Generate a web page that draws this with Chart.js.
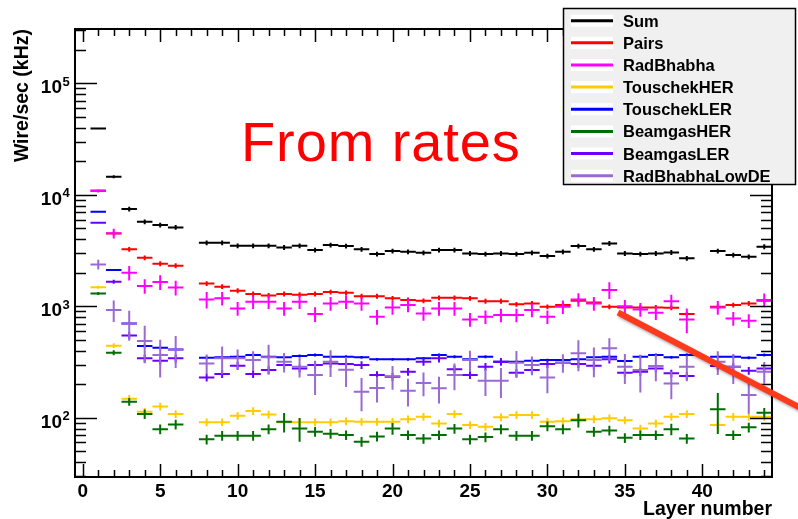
<!DOCTYPE html>
<html><head><meta charset="utf-8">
<script src="https://cdn.jsdelivr.net/npm/chart.js@4.4.0/dist/chart.umd.min.js"></script>
<style>
html,body{margin:0;padding:0;background:#fff;}
#wrap{position:relative;width:798px;height:519px;overflow:hidden;}
</style></head>
<body><div id="wrap"><canvas id="c" width="798" height="519"></canvas></div>
<script>
// ---- data ----
const layers = [1,2,3,4,5,6,8,9,10,11,12,13,14,15,16,17,18,19,20,21,22,23,24,25,26,27,28,29,30,31,32,33,34,35,36,37,38,39,41,42,43,44];
const seriesNames = ["Sum","Pairs","RadBhabha","TouschekHER","TouschekLER","BeamgasHER","BeamgasLER","RadBhabhaLowDE"];
const sum = [39400,14500,7440,5730,5350,5100, 3710,3710,3490,3490,3490,3370,3490,3190, 3540,3470,3240,2940,3130,3080,3020,3190, 3190,2980,2940,2980,2940,3020,2820,3080, 3470,3240,3660,2980,2940,2980,3040,2690, 3130,2880,2780,3420];
const pairs = [10900,4500,3240,2720,2410,2310, 1600,1500,1380,1290,1250,1290,1270,1290, 1340,1320,1230,1230,1180,1140,1120,1190, 1190,1180,1110,1110,1040,1060,990,1025, 1120,1080,990,977,977,977,970,851, 990,1025,1060,1120];
const radBhabha = [10800,4510,2000,1520,1650,1470, 1150,1180,957,1100,1100,957,1100,851, 1060,1100,1060,805,977,1025,863,957, 957,762,805,834,834,925,805,990, 1150,1060,1400,1000,937,875,1110,762, 977,778,742,1140];
const touschekHER = [1480,443,148,113,126,108, 91,91,104,115,107,91,91,91, 91,93,92,92,92,97,102,89, 108,86,83,101,106,106,92,93, 97,97,99,95,80,89,102,108, 86,102,102,102];
const touschekLER = [7040,2110,702,440,425,410, 345,348,353,365,353,348,358,365, 353,353,348,334,334,334,341,365, 353,334,353,318,318,325,329,329, 334,348,353,322,353,365,348,365, 353,353,345,365];
const beamgasHER = [1300,383,139,108,79,87, 64,69,69,69,79,92,80,75, 72,70,61,68,80,70,65,70, 80,64,67,79,69,69,84,79, 95,75,77,66,70,70,79,65, 119,70,82,111];
const beamgasLER = [5610,1660,548,341,325,341, 230,247,293,247,268,297,277,297, 307,303,297,242,233,259,318,341, 272,242,287,318,253,268,303,312, 303,293,334,253,259,277,250,237, 291,287,264,277];
const radBhabhaLowDE = [2370,925,702,488,365,410, 307,341,341,329,348,318,287,242, 318,270,171,185,235,175,205,184, 242,329,215,215,312,297,230,312, 378,329,419,287,268,291,203,287, 318,287,160,259];
// relative errors
const sumErr = [0.01,0.03,0.05,0.05,0.05,0.05, 0.05,0.05,0.05,0.05,0.05,0.05,0.05,0.05, 0.05,0.05,0.05,0.05,0.05,0.05,0.05,0.05, 0.05,0.05,0.05,0.05,0.05,0.05,0.05,0.05, 0.05,0.05,0.05,0.05,0.05,0.05,0.05,0.05, 0.05,0.05,0.05,0.05];
const pairsErr = [0.02,0.04,0.05,0.05,0.05,0.05, 0.05,0.05,0.05,0.05,0.05,0.05,0.05,0.05, 0.05,0.05,0.05,0.05,0.05,0.05,0.05,0.05, 0.05,0.05,0.05,0.05,0.05,0.05,0.05,0.05, 0.05,0.05,0.05,0.05,0.05,0.05,0.05,0.05, 0.05,0.05,0.05,0.05];
const radBhabhaErr = [0.03,0.10,0.15,0.15,0.15,0.15, 0.17,0.14,0.14,0.14,0.14,0.14,0.14,0.15, 0.14,0.14,0.14,0.15,0.14,0.14,0.14,0.14, 0.14,0.14,0.14,0.14,0.14,0.14,0.14,0.14, 0.14,0.14,0.17,0.14,0.14,0.14,0.14,0.25, 0.14,0.14,0.14,0.14];
const touschekHERErr = [0.03,0.05,0.08,0.08,0.08,0.08, 0.08,0.08,0.08,0.08,0.08,0.08,0.08,0.08, 0.08,0.08,0.08,0.08,0.08,0.08,0.08,0.08, 0.08,0.08,0.08,0.08,0.08,0.08,0.08,0.08, 0.08,0.08,0.08,0.08,0.08,0.08,0.08,0.08, 0.08,0.08,0.08,0.08];
const touschekLERErr = [0.01,0.02,0.03,0.03,0.03,0.03, 0.03,0.03,0.03,0.03,0.03,0.03,0.03,0.03, 0.03,0.03,0.03,0.03,0.03,0.03,0.03,0.03, 0.03,0.03,0.03,0.03,0.03,0.03,0.03,0.03, 0.03,0.03,0.03,0.03,0.03,0.03,0.03,0.03, 0.03,0.03,0.03,0.03];
const beamgasHERErr = [0.03,0.05,0.08,0.10,0.10,0.10, 0.10,0.10,0.10,0.10,0.10,0.20,0.24,0.10, 0.10,0.10,0.10,0.10,0.12,0.10,0.10,0.10, 0.10,0.10,0.10,0.10,0.10,0.10,0.10,0.10, 0.14,0.10,0.10,0.10,0.10,0.10,0.12,0.10, 0.40,0.10,0.10,0.10];
const beamgasLERErr = [0.02,0.04,0.07,0.08,0.08,0.08, 0.08,0.08,0.08,0.08,0.08,0.08,0.08,0.08, 0.08,0.08,0.08,0.08,0.08,0.08,0.08,0.08, 0.08,0.08,0.08,0.08,0.08,0.08,0.08,0.08, 0.08,0.08,0.08,0.08,0.08,0.08,0.08,0.08, 0.08,0.08,0.08,0.08];
const radBhabhaLowDEErr = [0.10,0.22,0.30,0.37,0.37,0.32, 0.20,0.28,0.20,0.20,0.30,0.20,0.20,0.34, 0.27,0.30,0.33,0.26,0.24,0.28,0.24,0.27, 0.27,0.21,0.27,0.30,0.27,0.19,0.28,0.19, 0.31,0.30,0.23,0.30,0.37,0.27,0.28,0.26, 0.24,0.30,0.32,0.22];
const xTickLabels = ["0","5","10","15","20","25","30","35","40"];
const yTickLabels = [["10","2"],["10","3"],["10","4"],["10","5"]];

const seriesValues = [sum,pairs,radBhabha,touschekHER,touschekLER,beamgasHER,beamgasLER,radBhabhaLowDE];
const seriesErrors = [sumErr,pairsErr,radBhabhaErr,touschekHERErr,touschekLERErr,beamgasHERErr,beamgasLERErr,radBhabhaLowDEErr];
const colors = ["#000000","#ff0000","#ff00ff","#ffcc00","#0000ff","#006e00","#6a00ff","#9a6ad2"];

function segs(vals, errs){
  const pts = [];
  for (let i=0;i<layers.length;i++){
    const x = layers[i], v = vals[i], e = errs[i]*v;
    pts.push({x:x-0.5,y:v},{x:x+0.5,y:v},{x:x,y:null},{x:x,y:v-e},{x:x,y:v+e},{x:x,y:null});
  }
  return pts;
}
const datasets = seriesNames.map((n,i)=>({
  label:n, data:segs(seriesValues[i],seriesErrors[i]), borderColor:colors[i], backgroundColor:colors[i],
  borderWidth:2, pointRadius:0, pointHoverRadius:0, fill:false, tension:0, spanGaps:false,
  borderCapStyle:'butt', order: seriesNames.length - i
}));

const F = '"Liberation Sans", Arial, Helvetica, sans-serif';
const rootPlugin = {
  id:'rootStyle',
  afterDraw(chart){
    const ctx = chart.ctx, xs = chart.scales.x, ys = chart.scales.y, ca = chart.chartArea;
    ctx.save();
    ctx.strokeStyle = '#000'; ctx.fillStyle = '#000';
    // x ticks
    ctx.lineWidth = 1.5;
    ctx.beginPath();
    for (let v=0; v<=44; v++){
      const px = Math.round(xs.getPixelForValue(v))+0.5;
      const len = v%5===0 ? 13 : 7;
      ctx.moveTo(px, ca.bottom); ctx.lineTo(px, ca.bottom-len);
      ctx.moveTo(px, ca.top); ctx.lineTo(px, ca.top+len);
    }
    // y ticks
    for (let d=1; d<=5; d++){
      for (let m=1; m<=9; m++){
        const val = m*Math.pow(10,d);
        if (val < ys.min || val > ys.max) continue;
        const py = Math.round(ys.getPixelForValue(val))+0.5;
        const len = m===1 ? 22 : 11;
        ctx.moveTo(ca.left, py); ctx.lineTo(ca.left+len, py);
        ctx.moveTo(ca.right, py); ctx.lineTo(ca.right-len, py);
      }
    }
    ctx.stroke();
    // frame
    ctx.lineWidth = 2;
    ctx.strokeRect(ca.left, ca.top, ca.right-ca.left, ca.bottom-ca.top);
    // x labels
    ctx.font = 'bold 19px '+F; ctx.textAlign='center'; ctx.textBaseline='alphabetic';
    xTickLabels.forEach(t=>{ ctx.fillText(t, xs.getPixelForValue(Number(t)), 497); });
    // y labels
    yTickLabels.forEach(([b,e])=>{
      const py = ys.getPixelForValue(Math.pow(10, Number(e)));
      ctx.font = 'bold 19px '+F; ctx.textAlign='right';
      ctx.fillText(b, 62, py+10);
      ctx.font = 'bold 13px '+F; ctx.textAlign='left';
      ctx.fillText(e, 62.5, py+2.5);
    });
    // axis titles
    ctx.font = 'bold 19.5px '+F; ctx.textAlign='right';
    ctx.fillText('Layer number', ca.right, 515);
    ctx.save(); ctx.translate(27.5, ca.top); ctx.rotate(-Math.PI/2);
    ctx.fillText('Wire/sec (kHz)', 0, 0); ctx.restore();
    // annotation text
    ctx.save();
    ctx.font = '56px '+F; ctx.fillStyle='#ff0000'; ctx.textAlign='left';
    try { ctx.letterSpacing = '0.9px'; } catch(e) {}
    ctx.fillText('From rates', 241, 161);
    ctx.restore();
    // annotation stroke
    ctx.save();
    ctx.shadowColor='rgba(0,0,0,0.35)'; ctx.shadowBlur=3; ctx.shadowOffsetX=1.5; ctx.shadowOffsetY=2;
    ctx.strokeStyle='#ff3a1c'; ctx.lineWidth=6; ctx.lineCap='butt';
    ctx.beginPath(); ctx.moveTo(618,312.5); ctx.lineTo(820,418); ctx.stroke();
    ctx.restore();
    // legend
    const lx=563, ly=8, lw=233, lh=177;
    ctx.fillStyle='#f0f0f0'; ctx.fillRect(lx,ly,lw,lh);
    ctx.strokeStyle='#000'; ctx.lineWidth=1.5; ctx.strokeRect(lx+0.5,ly+0.5,lw-1,lh-1);
    ctx.font='bold 16.5px '+F; ctx.textAlign='left';
    seriesNames.forEach((n,i)=>{
      const yy = 20.7 + i*22.14;
      ctx.fillStyle='#fff'; ctx.fillRect(571, yy-6, 42, 12);
      ctx.strokeStyle=colors[i]; ctx.lineWidth=3;
      ctx.beginPath(); ctx.moveTo(571,yy); ctx.lineTo(613,yy); ctx.stroke();
      ctx.fillStyle='#000'; ctx.fillText(n, 623, yy+6);
    });
    ctx.restore();
  }
};

new Chart(document.getElementById('c'), {
  type:'line',
  data:{datasets},
  options:{
    responsive:false, devicePixelRatio:1, animation:false, events:[],
    layout:{padding:{top:29,right:26,left:0,bottom:0}},
    plugins:{legend:{display:false}, tooltip:{enabled:false}},
    scales:{
      x:{type:'linear', min:-0.5, max:44.5, bounds:'data', grid:{display:false}, border:{display:false}, ticks:{display:false},
         afterBuildTicks(s){ s.min=-0.5; s.max=44.5; }, afterFit(s){ s.height=42; }},
      y:{type:'logarithmic', min:29.4, max:3.07e5, bounds:'data', grid:{display:false}, border:{display:false}, ticks:{display:false},
         afterBuildTicks(s){ s.min=29.4; s.max=3.07e5; }, afterFit(s){ s.width=75; }}
    }
  },
  plugins:[rootPlugin]
});
</script></body></html>
